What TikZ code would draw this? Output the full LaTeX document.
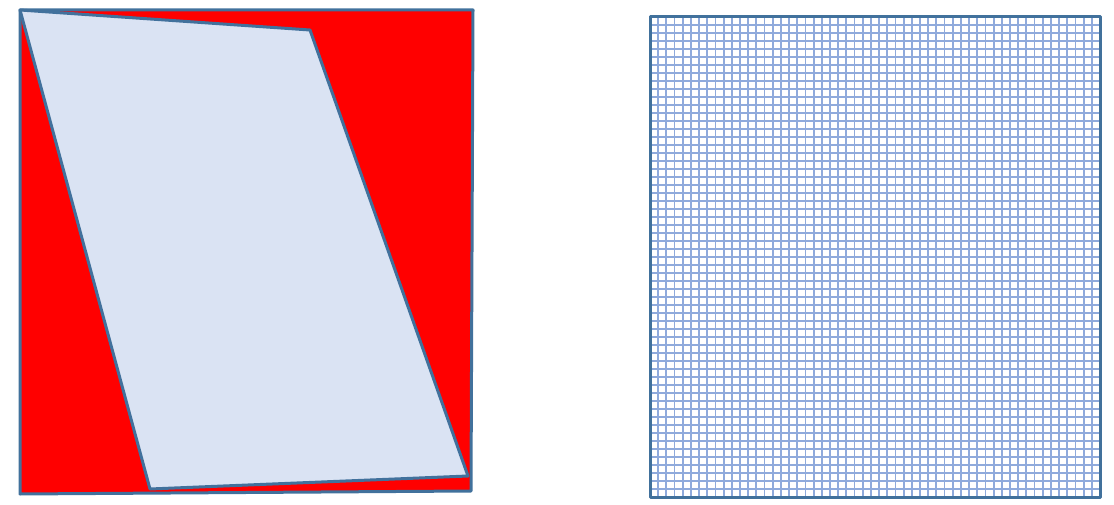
\documentclass[tikz,border=0pt]{standalone}
\definecolor{edgeblue}{HTML}{41719C}
\definecolor{fillblue}{HTML}{DAE3F3}
\definecolor{gridblue}{HTML}{8FAADC}
\begin{document}
\begin{tikzpicture}[x=1pt,y=-1pt,
  outline/.style={draw=edgeblue,line width=3pt,line join=round},
  gridline/.style={draw=gridblue,line width=1.8pt}]
\useasboundingbox (0,0) rectangle (1114,505);
% left figure
\path[outline,fill=red] (20,10) -- (473,10) -- (471,491) -- (20,494) -- cycle;
\path[outline,fill=fillblue] (20,10) -- (310,30) -- (468,476) -- (150,489) -- cycle;
% right grid
\foreach \i in {1,...,54} {
  \draw[gridline] ({650+\i*8.1818},17) -- ({650+\i*8.1818},497);
}
\foreach \j in {1,...,59} {
  \draw[gridline] (650,{17+\j*8}) -- (1100,{17+\j*8});
}
\path[outline] (650,17) rectangle (1100,497);
\end{tikzpicture}
\end{document}
